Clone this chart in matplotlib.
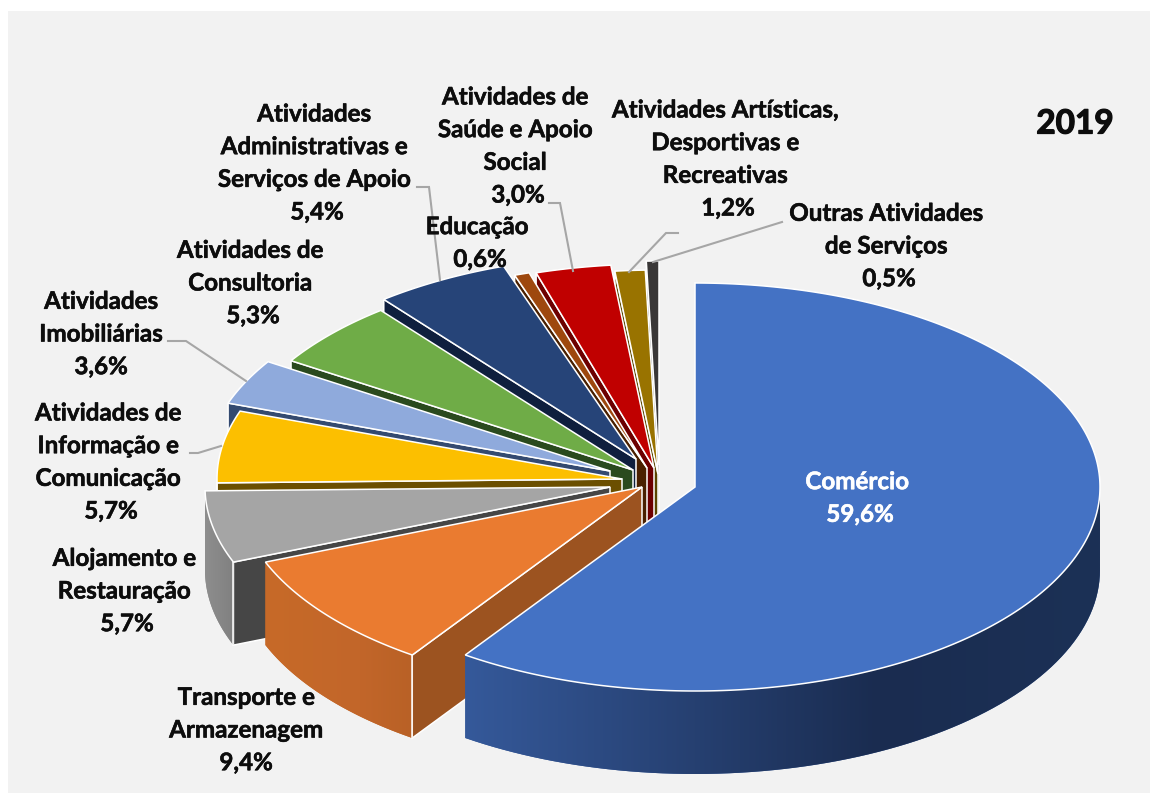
import numpy as np
import matplotlib
matplotlib.use('Agg')
import matplotlib.pyplot as plt
import matplotlib.patheffects as pe
from matplotlib.colors import to_rgb
from matplotlib.patches import Polygon, Rectangle

plt.rcParams['font.family'] = ['Lato', 'DejaVu Sans']

# valores em %, sentido horario a partir das 12h
categories = ['Comércio', 'Transporte e\nArmazenagem', 'Alojamento e\nRestauração',
              'Atividades de\nInformação e\nComunicação', 'Atividades\nImobiliárias',
              'Atividades de\nConsultoria', 'Atividades\nAdministrativas e\nServiços de Apoio',
              'Educação', 'Atividades de\nSaúde e Apoio\nSocial',
              'Atividades Artísticas,\nDesportivas e\nRecreativas',
              'Outras Atividades\nde Serviços']
values = [59.6, 9.4, 5.7, 5.7, 3.6, 5.3, 5.4, 0.6, 3.0, 1.2, 0.5]
year = '2019'

# estilo
top_colors = ['#4472c4', '#ea7b30', '#a5a5a5', '#fcbf00', '#8faadc', '#6fac47',
              '#264478', '#9e480e', '#c00000', '#997300', '#3a3838']
wall_colors = ['#1b2f55', '#9c5320', '#464646', '#6b4f00', '#344a70', '#2a4a1e',
               '#0f1f3e', '#4a2000', '#6d0000', '#5a4500', '#222222']
rim_colors = [('#35599a', '#1a2c50', '#1c3156'), ('#c76a28', '#c2662a', '#b96126'),
              ('#8e8e8e', '#858585', '#808080'), ('#6b4f00', '#6b4f00', '#6b4f00'),
              ('#344a70', '#344a70', '#344a70'), ('#2a4a1e', '#2a4a1e', '#2a4a1e'),
              ('#0f1f3e', '#0f1f3e', '#0f1f3e'), ('#4a2000', '#4a2000', '#4a2000'),
              ('#6d0000', '#6d0000', '#6d0000'), ('#5a4500', '#5a4500', '#5a4500'),
              ('#222222', '#222222', '#222222')]
# deslocamento de cada fatia (explosao), em pixels
apex_x = [695, 642, 610, 622, 610, 633, 636, 647, 654, 658, 659]
apex_y = [487, 487, 487, 479, 471, 470, 459, 468, 468, 474, 465]
rx, ry, depth = 405, 204, 83

label_x = [857, 246, 124, 108, 101, 250, 314, 477, 515, 725, 886]
label_y = [498, 730, 591, 462, 334, 283, 163, 243, 146, 159, 246]
# linhas de percentagem ligeiramente desviadas, como no original
no_pad = [1, 4]
leaders = [([549, 560, 573], [203, 203, 271]),
           ([678, 666, 629], [233, 233, 272]),
           ([782, 653], [222, 262]),
           ([417, 429, 440], [187, 187, 280]),
           ([168, 186, 246], [341, 341, 381]),
           ([190, 198, 221], [453, 453, 446])]

fig = plt.figure(figsize=(11.5, 7.93), dpi=100, facecolor='white')
ax = fig.add_axes([0, 0, 1, 1])
ax.add_patch(Rectangle((8, 11), 1142, 782, facecolor='#f2f2f2', edgecolor='none', zorder=0))


def rim_point(a, ox, oy, dz=0):
    r = np.radians(a)
    return ox + rx * np.sin(r), oy - ry * np.cos(r) + dz


shares = np.array(values) * 3.6
ends = np.minimum(np.cumsum(shares), 360)
starts = ends - shares

# pintar de tras para a frente
z = 1
for i in range(len(values) - 1, -1, -1):
    a0, a1 = starts[i], ends[i]
    ox, oy = apex_x[i], apex_y[i]

    # parede radial do lado inicial (so se ve nas fatias da esquerda)
    if i > 0:
        x0, y0 = rim_point(a0, ox, oy)
        ax.add_patch(Polygon([(ox, oy), (x0, y0), (x0, y0 + depth), (ox, oy + depth)],
                             facecolor=wall_colors[i], edgecolor='white', lw=1.1, zorder=z))
        z += 1

    # parede exterior com gradiente
    b0, b1 = max(a0, 90), min(a1, 270)
    if b1 > b0:
        arc = np.linspace(b0, b1, 80)
        up = [rim_point(a, ox, oy) for a in arc]
        low = [rim_point(a, ox, oy, depth) for a in arc[::-1]]
        outline = Polygon(up + low, facecolor=rim_colors[i][0], edgecolor='none', zorder=z)
        ax.add_patch(outline)
        xs = [p[0] for p in up]
        ys = [p[1] for p in up] + [p[1] for p in low]
        xmin, xmax = min(xs), max(xs)
        stops = np.array([to_rgb(c) for c in rim_colors[i]])
        t = np.linspace(0, 1, 256)
        grad = np.stack([np.interp(t, [0, 0.65, 1], stops[:, k]) for k in range(3)], axis=1)[None, :, :]
        im = ax.imshow(grad, extent=(xmin, xmax, max(ys), min(ys)), aspect='auto', zorder=z, interpolation='bilinear')
        im.set_clip_path(outline)
        z += 1
        # aresta vertical branca
        if i > 0:
            xe, ye = rim_point(b0, ox, oy)
            ax.plot([xe, xe], [ye, ye + depth], color='white', lw=1.1, zorder=z)
            z += 1

    # tampo
    arc = np.linspace(a0, a1, max(int(a1 - a0) * 2, 4))
    pts = [(ox, oy)] + [rim_point(a, ox, oy) for a in arc]
    ax.add_patch(Polygon(pts, facecolor=top_colors[i], edgecolor='white', lw=1.1, zorder=z))
    z += 1

for xs, ys in leaders:
    ax.plot(xs, ys, color='#a6a6a6', lw=1.5, solid_joinstyle='miter', zorder=z)

for i, name in enumerate(categories):
    pct = ('%.1f%%' % values[i]).replace('.', ',')
    if i not in no_pad:
        pct = ' ' + pct
    col = 'white' if i == 0 else '#0d0d0d'
    t = ax.text(label_x[i], label_y[i], name + '\n' + pct, ha='center', va='center', fontsize=17.4,
                fontweight='bold', color=col, linespacing=1.51, zorder=z + 1)
    t.set_path_effects([pe.withStroke(linewidth=0.4, foreground=col)])

t = ax.text(1075, 124, year, ha='center', va='center', fontsize=24, fontweight='bold', color='#0d0d0d', zorder=z + 1)
t.set_path_effects([pe.withStroke(linewidth=0.9, foreground='#0d0d0d')])

ax.set_xlim(0, 1150)
ax.set_ylim(793, 0)
ax.axis('off')

fig.savefig('out.png', dpi=100)
